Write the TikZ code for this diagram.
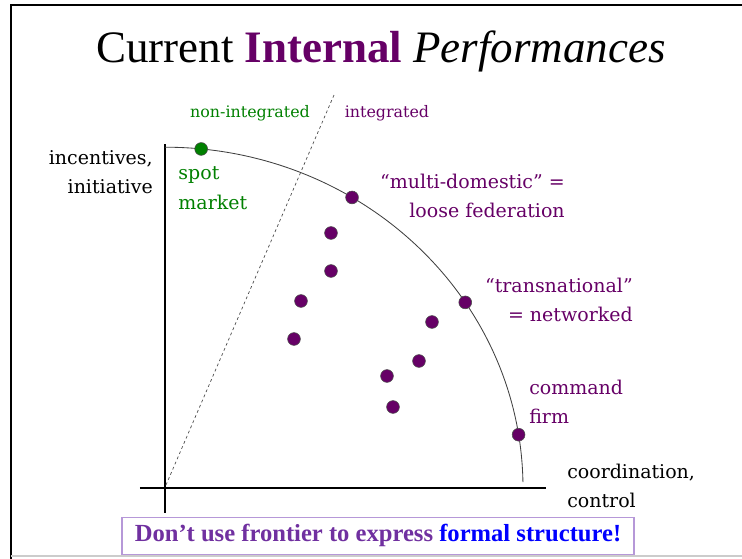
\documentclass[tikz,border=0pt]{standalone}
\usepackage{fontspec}
\usepackage{tikz}
\usetikzlibrary{positioning}
\setmainfont{Liberation Serif}
\newfontfamily\labelfont{DejaVu Serif}
\definecolor{plum}{RGB}{102,0,102}
\definecolor{leaf}{RGB}{0,128,0}
\definecolor{boxpurple}{RGB}{112,48,160}
\definecolor{lilac}{RGB}{182,152,216}

\begin{document}
\begin{tikzpicture}[
    axis/.style={line width=1.4pt},
    frontier/.style={line width=0.6pt, black!75},
    firmdot/.style={circle, draw=black!70, line width=0.4pt, fill=plum, inner sep=0pt, minimum size=0.32cm},
    lbl/.style={inner sep=0pt, font=\labelfont\fontsize{13.5}{21}\selectfont},
    smalllbl/.style={inner sep=0pt, font=\labelfont\fontsize{11.3}{14}\selectfont}
  ]
    \useasboundingbox (-4.125,-1.775) rectangle (14.425,12.2);

    % slide frame
    \draw [line width=2pt] (-3.85,-1.775) -- (-3.85,12.075) -- (14.425,12.075);
    \draw [black!20, line width=0.8pt] (-3.85,-1.7) -- (14.425,-1.7);

    \node (title) [anchor=base, font=\fontsize{32}{38}\selectfont] at (5.4,10.625)
      {Current \textbf{\textcolor{plum}{Internal}} \textit{Performances}};

    % axes
    \coordinate (origin) at (0.025,0.075);
    \coordinate (cut) at (4.225,9.825);
    \draw [axis] (-0.625,0) -- (9.525,0);
    \draw [axis] (0,-0.625) -- (0,8.6);
    \draw [dashed, black!70, line width=0.5pt, dash pattern=on 2pt off 2pt] (origin) -- (cut);

    % frontier
    \draw [frontier] (0,8.52) arc [start angle=90, end angle=1, x radius=8.95, y radius=8.52];

    \node (spot) [firmdot, fill=leaf] at (84.2:8.95cm and 8.52cm) {};
    \node (multi) [firmdot] at (58.5:8.95cm and 8.52cm) {};
    \node (trans) [firmdot] at (33:8.95cm and 8.52cm) {};
    \node (command) [firmdot] at (9:8.95cm and 8.52cm) {};

    % firms inside the frontier
    \node (f1) [firmdot] at (4.15,6.375) {};
    \node (f2) [firmdot] at (4.15,5.425) {};
    \node (f3) [firmdot] at (3.4,4.675) {};
    \node (f4) [firmdot] at (3.225,3.725) {};
    \node (f5) [firmdot] at (6.675,4.15) {};
    \node (f6) [firmdot] at (6.35,3.175) {};
    \node (f7) [firmdot] at (5.55,2.8) {};
    \node (f8) [firmdot] at (5.7,2.025) {};

    \node (nonint) [smalllbl, text=leaf] at (2.125,9.375) {non-integrated};
    \node (int) [smalllbl, text=plum] at (5.55,9.375) {integrated};

    \node (yaxis) [lbl, anchor=east, align=right] at (-0.3,7.9) {incentives,\\initiative};
    \node (xaxis) [lbl, anchor=west, align=left] at (10.05,0.05) {coordination,\\control};

    \node (spotlbl) [lbl, anchor=west, align=left, text=leaf] at (0.33,7.5) {spot\\market};
    \node (multilbl) [lbl, anchor=east, align=right, text=plum] at (10.0,7.3) {“multi-domestic” =\\loose federation};
    \node (translbl) [lbl, anchor=east, align=right, text=plum] at (11.7,4.7) {“transnational”\\= networked};
    \node (commandlbl) [lbl, anchor=west, align=left, text=plum] at (9.1,2.15) {command\\firm};

    \node (warning) [draw=lilac, line width=0.8pt, minimum width=12.8cm, minimum height=0.925cm,
      text=boxpurple, font=\bfseries\fontsize{17.5}{21}\selectfont] at (5.325,-1.19)
      {Don’t use frontier to express \textcolor{blue}{formal structure!}};
  \end{tikzpicture}
\end{document}
